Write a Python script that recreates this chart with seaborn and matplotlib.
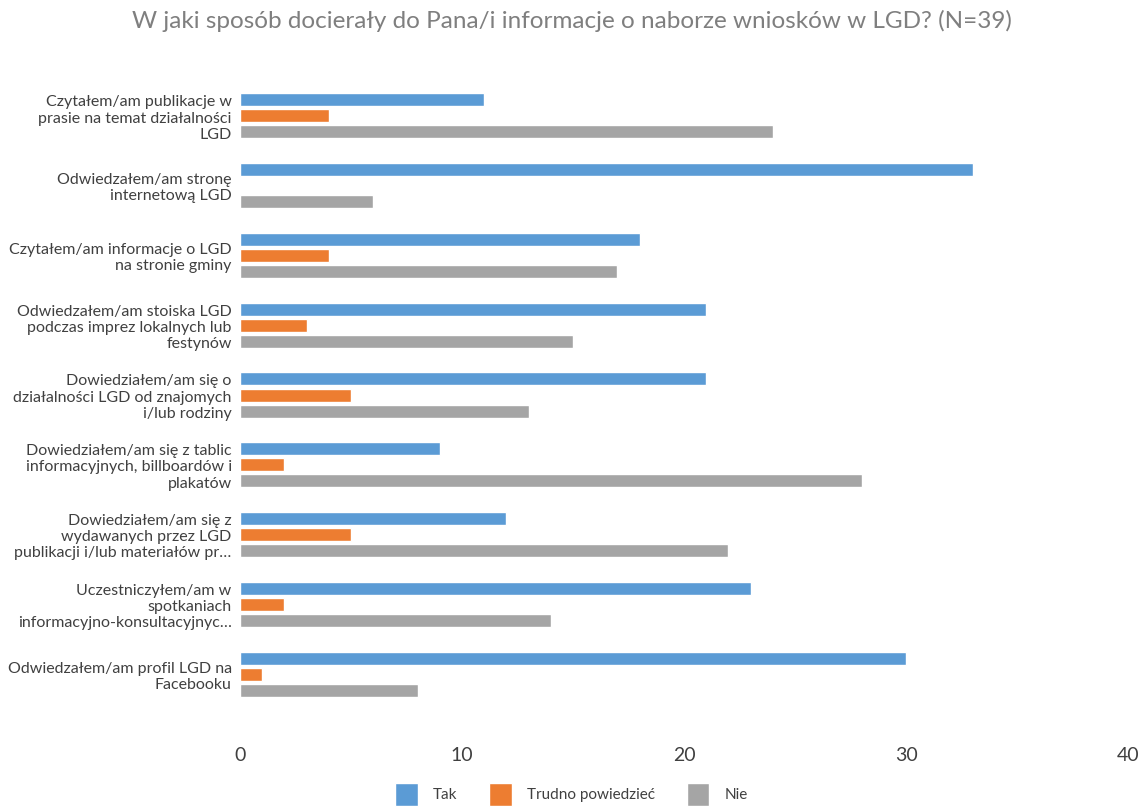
"""
Bar chart: W jaki sposób docierały informacje o naborze wniosków w LGD (N=39).
"""

import pandas as pd
import matplotlib.pyplot as plt
import seaborn as sns

categories = [
    "Czytałem/am publikacje w\nprasie na temat działalności\nLGD",
    "Odwiedzałem/am stronę\ninternetową LGD",
    "Czytałem/am informacje o LGD\nna stronie gminy",
    "Odwiedzałem/am stoiska LGD\npodczas imprez lokalnych lub\nfestynów",
    "Dowiedziałem/am się o\ndziałalności LGD od znajomych\ni/lub rodziny",
    "Dowiedziałem/am się z tablic\ninformacyjnych, billboardów i\nplakatów",
    "Dowiedziałem/am się z\nwydawanych przez LGD\npublikacji i/lub materiałów pr…",
    "Uczestniczyłem/am w\nspotkaniach\ninformacyjno-konsultacyjnyc…",
    "Odwiedzałem/am profil LGD na\nFacebooku",
]
series = ["Tak", "Trudno powiedzieć", "Nie"]
tak = [11, 33, 18, 21, 21, 9, 12, 23, 30]
trudno = [4, 0, 4, 3, 5, 2, 5, 2, 1]
nie = [24, 6, 17, 15, 13, 28, 22, 14, 8]
colors = ["#5B9BD5", "#ED7D31", "#A5A5A5"]

df = pd.DataFrame({"kategoria": categories, "Tak": tak,
                   "Trudno powiedzieć": trudno, "Nie": nie})
long = df.melt(id_vars="kategoria", var_name="odp", value_name="n")

sns.set_theme(style="white")
plt.rcParams["font.family"] = ["Lato", "DejaVu Sans"]

fig = plt.figure(figsize=(11.43, 8.07), dpi=100)
ax = fig.add_axes([0.21, 0.1214, 0.777, 0.7782])

sns.barplot(data=long, y="kategoria", x="n", hue="odp", hue_order=series,
            order=categories, palette=colors, orient="h", width=0.69,
            gap=0.19, saturation=1, ax=ax, legend=True)

ax.set_xlim(0, 40)
ax.set_xticks([0, 10, 20, 30, 40])
ax.set_xlabel("")
ax.set_ylabel("")
for s in ax.spines.values():
    s.set_visible(False)
ax.tick_params(axis="x", labelsize=14, colors="#404040", pad=27, length=0)
ax.tick_params(axis="y", labelsize=11.5, colors="#404040", pad=6, length=0)
for lab in ax.get_yticklabels():
    lab.set_horizontalalignment("right")
    lab.set_multialignment("right")

fig.suptitle("W jaki sposób docierały do Pana/i informacje o naborze wniosków w LGD? (N=39)",
             x=0.5, y=0.988, fontsize=17.5, color="#7F7F7F")

handles, labels = ax.get_legend_handles_labels()
ax.legend_.remove()
fig.legend(handles, labels, loc="lower center", bbox_to_anchor=(0.5, -0.016),
           ncol=3, frameon=False, fontsize=11, labelcolor="#404040",
           handlelength=1.45, handleheight=2.0, columnspacing=2.1,
           handletextpad=1.0)

fig.savefig("out.png", dpi=100)
